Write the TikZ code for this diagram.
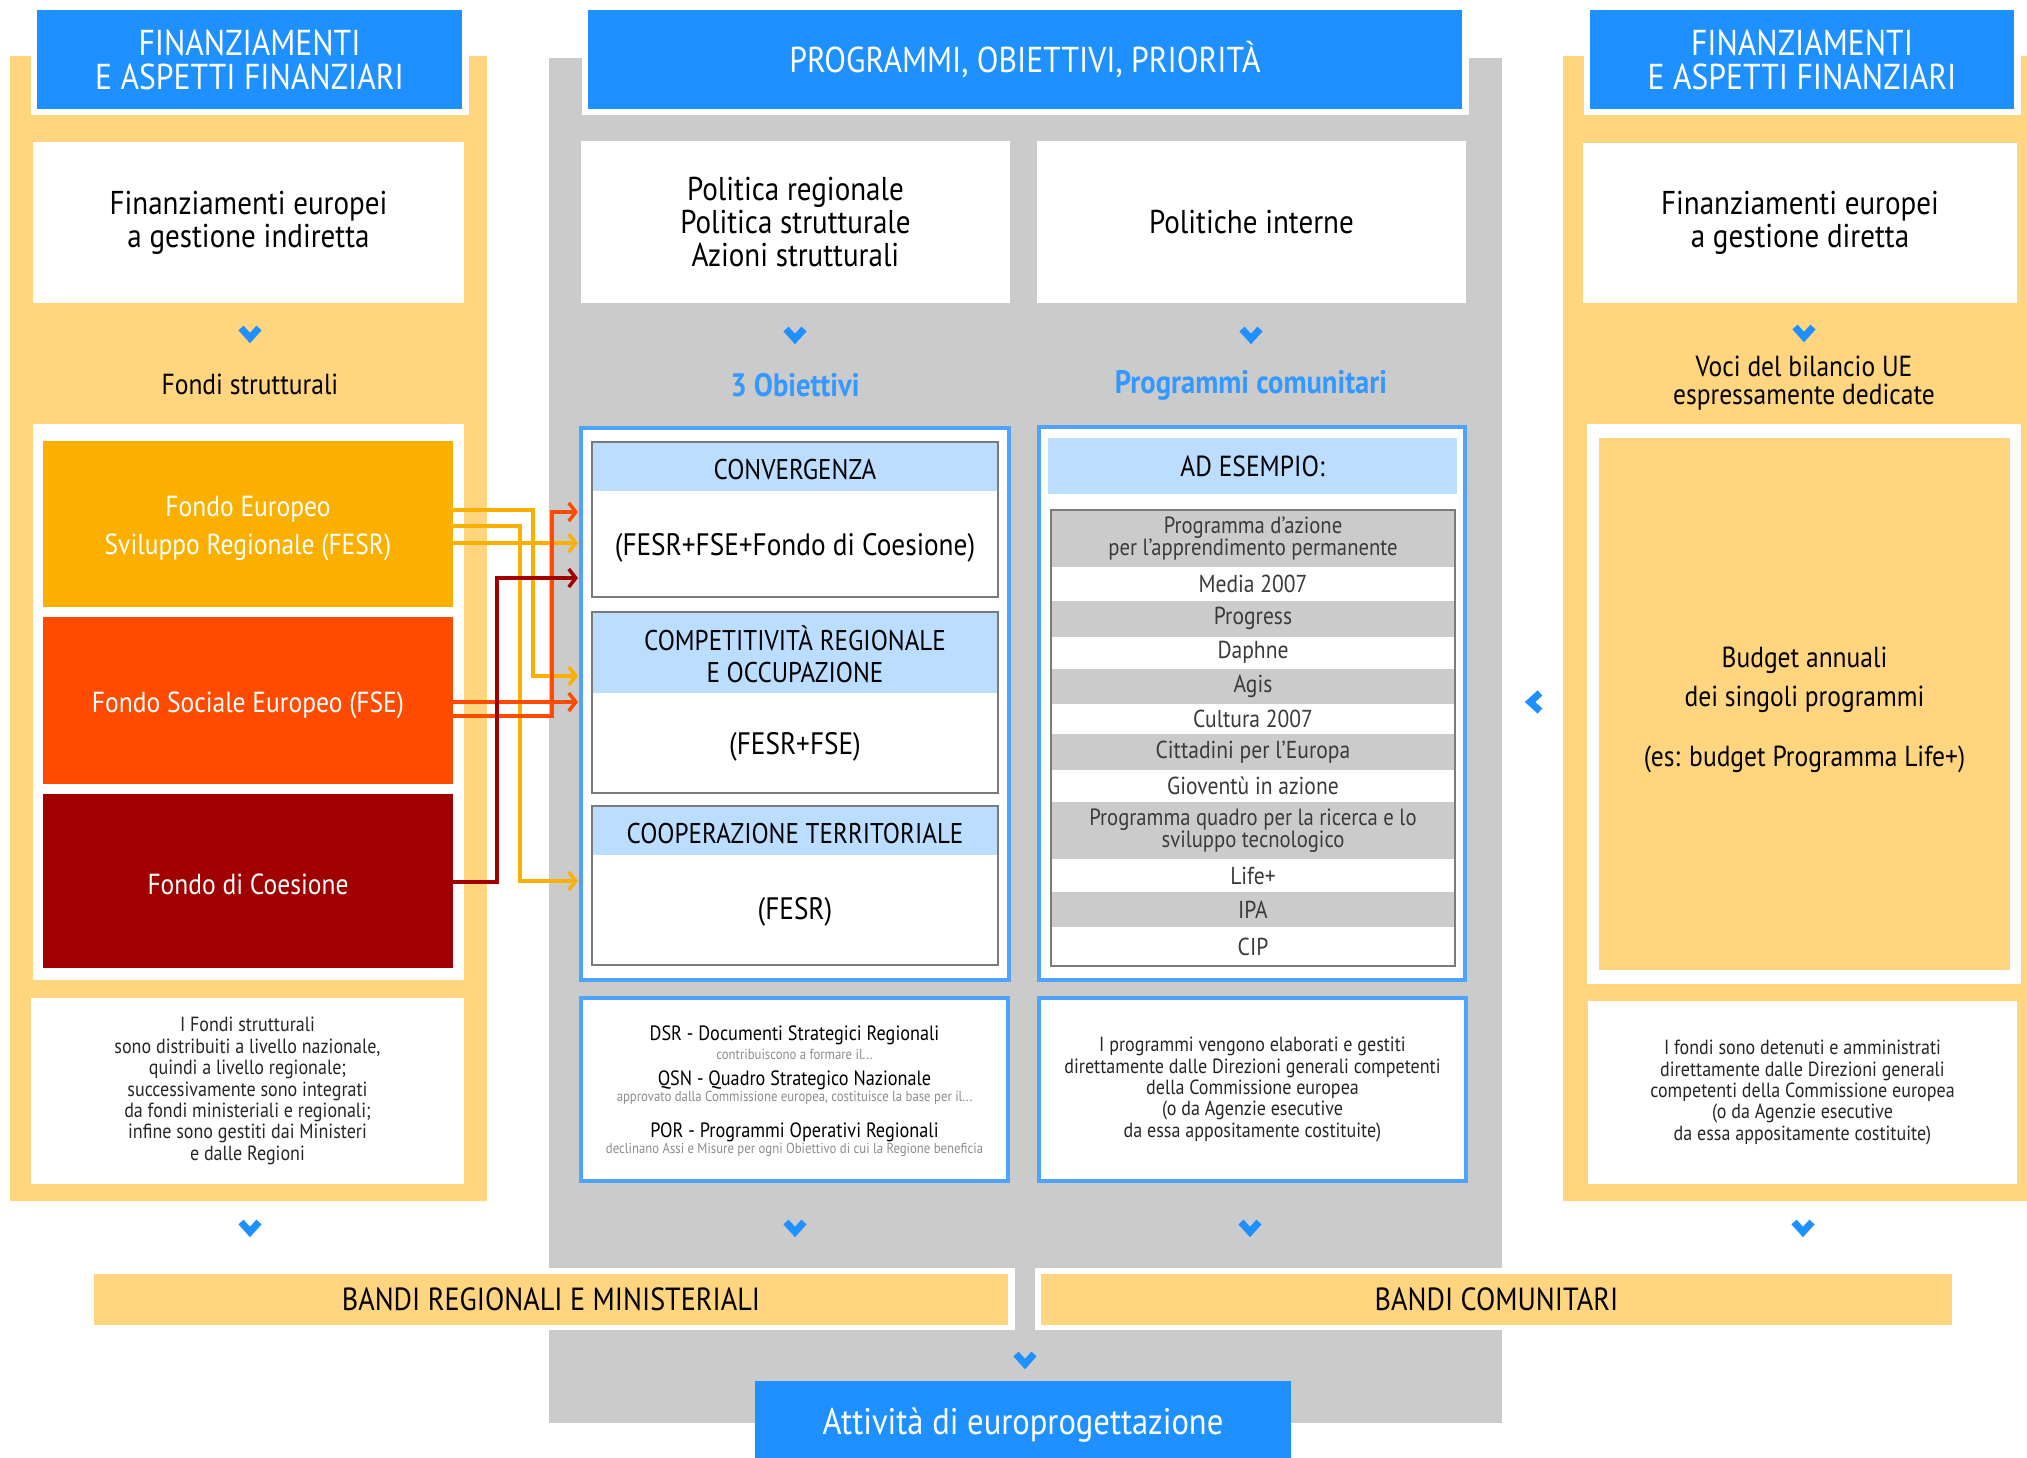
\documentclass[tikz,border=0pt]{standalone}
\usepackage{fontspec}
\setmainfont{PT Sans}[FakeStretch=0.88]
\usetikzlibrary{arrows.meta}
\definecolor{ypan}{HTML}{FFD57F}
\definecolor{gpan}{HTML}{CBCBCB}
\definecolor{hblue}{HTML}{1E90FF}
\definecolor{bbord}{HTML}{4DA3FF}
\definecolor{lblue}{HTML}{BBDDFF}
\definecolor{ibord}{HTML}{7A7A7A}
\definecolor{rowgray}{HTML}{CBCBCB}
\definecolor{tgray}{HTML}{3A3A3A}
\definecolor{subgray}{HTML}{8C8C8C}
\definecolor{cfesr}{HTML}{FBB000}
\definecolor{cfse}{HTML}{FF4B00}
\definecolor{ccoes}{HTML}{A00000}
\definecolor{tblue}{HTML}{3399FF}
\newcommand\myfH{\fontsize{36}{34}\selectfont}
\newcommand\myfB{\fontsize{33}{33}\selectfont}
\newcommand\myfL{\fontsize{29}{28}\selectfont}
\newcommand\myfLb{\fontsize{32.5}{28}\selectfont\bfseries}
\newcommand\myfF{\fontsize{29}{38}\selectfont}
\newcommand\myfO{\fontsize{28.5}{32}\selectfont}
\newcommand\myfOb{\fontsize{31}{32}\selectfont}
\newcommand\myfT{\fontsize{24.5}{19}\selectfont}
\newcommand\myfTt{\fontsize{23.5}{22}\selectfont\lineskiplimit=-50pt}
\newcommand\myfS{\fontsize{20.5}{21.4}\selectfont\lineskiplimit=-50pt}
\newcommand\myfD{\fontsize{20.7}{20}\selectfont}
\newcommand\myfDs{\fontsize{14.5}{12}\selectfont}
\newcommand\myfBa{\fontsize{32}{30}\selectfont}
\newcommand\myfBu{\fontsize{29}{39}\selectfont}
\newcommand\myfA{\fontsize{37}{34}\selectfont}
\begin{document}
\begin{tikzpicture}[x=1pt,y=-1pt,
  every node/.style={inner sep=0pt, outer sep=0pt, align=center},
  hdr/.style={fill=hblue, text=white, font=\myfH, preaction={draw=white, line width=13pt}},
  wbox/.style={fill=white, text=black, font=\myfB},
  fund/.style={text=white, font=\myfF},
  obox/.style={fill=white, draw=bbord, line width=4pt},
  ibox/.style={fill=white, draw=ibord, line width=2pt},
  ihead/.style={fill=lblue, font=\myfO, text=black},
  trow/.style={minimum width=404pt, font=\myfT, text=tgray},
  rowg/.style={trow, fill=rowgray},
  roww/.style={trow, fill=white},
  smalltxt/.style={font=\myfS, text=black!85},
  conn/.style={line width=3.5pt, shorten >=3pt, -{Straight Barb[length=7pt,width=18pt]}},
  bando/.style={fill=ypan, font=\myfBa, text=black},
  chev/.style={draw=hblue, line width=7pt, line join=miter, line cap=butt},
  chevd/.pic={\draw[chev] (-9,-6) -- (0,4) -- (9,-6);},
  chevl/.pic={\draw[chev] (6,-9) -- (-4,0) -- (6,9);},
]
\useasboundingbox (0,0) rectangle (2027,1458);
\fill[white] (0,0) rectangle (2027,1458);
% panels
\fill[ypan] (10,56) rectangle (487,1201);
\fill[ypan] (1563,56) rectangle (2027,1201);
\fill[gpan] (549,58) rectangle (1502,1423);
\fill[white] (549,1268) rectangle (1502,1330);
\fill[gpan] (1015,1268) rectangle (1035,1330);
% headers
\node[hdr, minimum width=425pt, minimum height=99pt] (hl) at (249.5,59.5) {FINANZIAMENTI\\E ASPETTI FINANZIARI};
\node[hdr, minimum width=874pt, minimum height=99pt] (hm) at (1025,59.5) {PROGRAMMI, OBIETTIVI, PRIORITÀ};
\node[hdr, minimum width=424pt, minimum height=99pt] (hr) at (1802,59.5) {FINANZIAMENTI\\E ASPETTI FINANZIARI};
% first white boxes
\node[wbox, minimum width=431pt, minimum height=161pt] (lw1) at (248.5,222.5) {Finanziamenti europei\\a gestione indiretta};
\node[wbox, minimum width=429pt, minimum height=162pt] (mw1) at (795.5,222) {Politica regionale\\Politica strutturale\\Azioni strutturali};
\node[wbox, minimum width=429pt, minimum height=162pt] (mw2) at (1251.5,222) {Politiche interne};
\node[wbox, minimum width=434pt, minimum height=160pt] (rw1) at (1800,223) {Finanziamenti europei\\a gestione diretta};
\pic at (250,334) {chevd};
\pic at (795,335) {chevd};
\pic at (1251,335) {chevd};
\pic at (1804,333) {chevd};
% labels
\node[font=\myfL] (lfs) at (250,384) {Fondi strutturali};
\node[font=\myfLb, text=tblue] (mob) at (795,385) {3 Obiettivi};
\node[font=\myfLb, text=tblue] (mpc) at (1251,385) {Programmi comunitari};
\node[font=\myfL] (rvb) at (1804,383) {Voci del bilancio UE\\espressamente dedicate};
% left funds
\node[fill=white, minimum width=431pt, minimum height=556pt] (lw2) at (248.5,702) {};
\node[fill=cfesr, minimum width=410pt, minimum height=166pt] (fesr) at (248,524) {};
\node[fund] (fesrt) at (248,529) {Fondo Europeo\\Sviluppo Regionale (FESR)};
\node[fill=cfse, minimum width=410pt, minimum height=167pt] (fse) at (248,700.5) {};
\node[fund] (fset) at (248,705.5) {Fondo Sociale Europeo (FSE)};
\node[fill=ccoes, minimum width=410pt, minimum height=174pt] (coes) at (248,881) {};
\node[fund] (coest) at (248,884) {Fondo di Coesione};
% objectives
\node[obox, minimum width=428pt, minimum height=552pt] (obj) at (795,704) {};
\node[ibox, minimum width=406pt, minimum height=155pt] (conv) at (795,519.5) {};
\node[ihead, minimum width=404pt, minimum height=48pt] (convh) at (795,467) {};
\node[font=\myfO] (convl) at (795,470) {CONVERGENZA};
\node[font=\myfOb] (convt) at (795,548) {(FESR+FSE+Fondo di Coesione)};
\node[ibox, minimum width=406pt, minimum height=181pt] (comp) at (795,702.5) {};
\node[ihead, minimum width=404pt, minimum height=80pt] (comph) at (795,653) {};
\node[font=\myfO] (compl) at (795,654) {COMPETITIVITÀ REGIONALE\\E OCCUPAZIONE};
\node[font=\myfOb] (compt) at (795,747) {(FESR+FSE)};
\node[ibox, minimum width=406pt, minimum height=159pt] (coop) at (795,885.5) {};
\node[ihead, minimum width=404pt, minimum height=48pt] (cooph) at (795,831) {};
\node[font=\myfO] (coopl) at (795,834) {COOPERAZIONE TERRITORIALE};
\node[font=\myfOb] (coopt) at (795,912) {(FESR)};
% programmi
\node[obox, minimum width=426pt, minimum height=553pt] (prog) at (1252,703.5) {};
\node[ihead, minimum width=409pt, minimum height=56pt, font=\fontsize{29}{30}\selectfont] (adh) at (1252.5,466) {AD ESEMPIO:};
\node[rowg, font=\myfTt, minimum height=56.5pt] (r1) at (1253,538.25) {Programma d’azione\\per l’apprendimento permanente};
\node[roww, minimum height=34.5pt] (r2) at (1253,583.75) {Media 2007};
\node[rowg, minimum height=35.5pt] (r3) at (1253,618.75) {Progress};
\node[roww, minimum height=32.5pt] (r4) at (1253,652.75) {Daphne};
\node[rowg, minimum height=35pt] (r5) at (1253,686.5) {Agis};
\node[roww, minimum height=30pt] (r6) at (1253,719) {Cultura 2007};
\node[rowg, minimum height=36pt] (r7) at (1253,752) {Cittadini per l’Europa};
\node[roww, minimum height=32pt] (r8) at (1253,786) {Gioventù in azione};
\node[rowg, font=\myfTt, minimum height=57pt] (r9) at (1253,830.5) {Programma quadro per la ricerca e lo\\sviluppo tecnologico};
\node[roww, minimum height=33pt] (r10) at (1253,875.5) {Life+};
\node[rowg, minimum height=35pt] (r11) at (1253,909.5) {IPA};
\node[roww, minimum height=39pt] (r12) at (1253,946.5) {CIP};
\draw[draw=ibord, line width=2pt] (r1.north west) rectangle (r12.south east);
% right budget
\node[fill=white, minimum width=434pt, minimum height=560pt] (rw2) at (1804,704) {};
\node[fill=ypan, minimum width=411pt, minimum height=532pt] (bud) at (1804.5,704) {};
\node[font=\myfBu] (budt) at (1804.5,710) {Budget annuali\\dei singoli programmi\\[21pt](es: budget Programma Life+)};
\pic at (1534,702) {chevl};
% bottom boxes
\node[wbox, smalltxt, minimum width=433pt, minimum height=186pt] (lw3) at (247.5,1091) {I Fondi strutturali\\sono distribuiti a livello nazionale,\\quindi a livello regionale;\\successivamente sono integrati\\da fondi ministeriali e regionali;\\infine sono gestiti dai Ministeri\\e dalle Regioni};
\node[obox, minimum width=427pt, minimum height=183pt] (dsr) at (794.5,1089.5) {};
\node[font=\myfD] (dsr1) at (794.5,1035) {DSR - Documenti Strategici Regionali};
\node[font=\myfDs, text=subgray] (dsr2) at (794.5,1054) {contribuiscono a formare il...};
\node[font=\myfD] (qsn1) at (794.5,1080) {QSN - Quadro Strategico Nazionale};
\node[font=\myfDs, text=subgray] (qsn2) at (794.5,1098) {approvato dalla Commissione europea, costituisce la base per il...};
\node[font=\myfD] (por1) at (794.5,1132) {POR - Programmi Operativi Regionali};
\node[font=\myfDs, text=subgray] (por2) at (794.5,1150) {declinano Assi e Misure per ogni Obiettivo di cui la Regione beneficia};
\node[obox, smalltxt, minimum width=427pt, minimum height=183pt] (pt) at (1252.5,1089.5) {I programmi vengono elaborati e gestiti\\direttamente dalle Direzioni generali competenti\\della Commissione europea\\(o da Agenzie esecutive\\da essa appositamente costituite)};
\node[wbox, smalltxt, minimum width=429pt, minimum height=183pt] (rw3) at (1802.5,1092.5) {I fondi sono detenuti e amministrati\\direttamente dalle Direzioni generali\\competenti della Commissione europea\\(o da Agenzie esecutive\\da essa appositamente costituite)};
\pic at (250,1228) {chevd};
\pic at (795,1228) {chevd};
\pic at (1250,1228) {chevd};
\pic at (1803,1228) {chevd};
% bandi
\node[bando, minimum width=914pt, minimum height=51pt] (bl) at (551,1299.5) {BANDI REGIONALI E MINISTERIALI};
\node[bando, minimum width=911pt, minimum height=51pt] (br) at (1496.5,1299.5) {BANDI COMUNITARI};
\pic at (1025,1360) {chevd};
\node[fill=hblue, minimum width=536pt, minimum height=86pt] (att) at (1023,1424) {};
\node[text=white, font=\myfA] (attl) at (1023,1425) {Attività di europrogettazione};
% connectors
\draw[conn, cfesr] (fesr.east |- 0,510) -| (533,676) -- (obj.west |- 0,676);
\draw[conn, cfesr] (fesr.east |- 0,526) -| (520,881) -- (obj.west |- 0,881);
\draw[conn, cfesr] (fesr.east |- 0,543) -- (obj.west |- 0,543);
\draw[conn, cfse] (fse.east |- 0,702) -- (obj.west |- 0,702);
\draw[conn, cfse] (fse.east |- 0,716) -| (552,512) -- (obj.west |- 0,512);
\draw[conn, ccoes] (coes.east |- 0,882) -| (497,578) -- (obj.west |- 0,578);
\end{tikzpicture}
\end{document}
